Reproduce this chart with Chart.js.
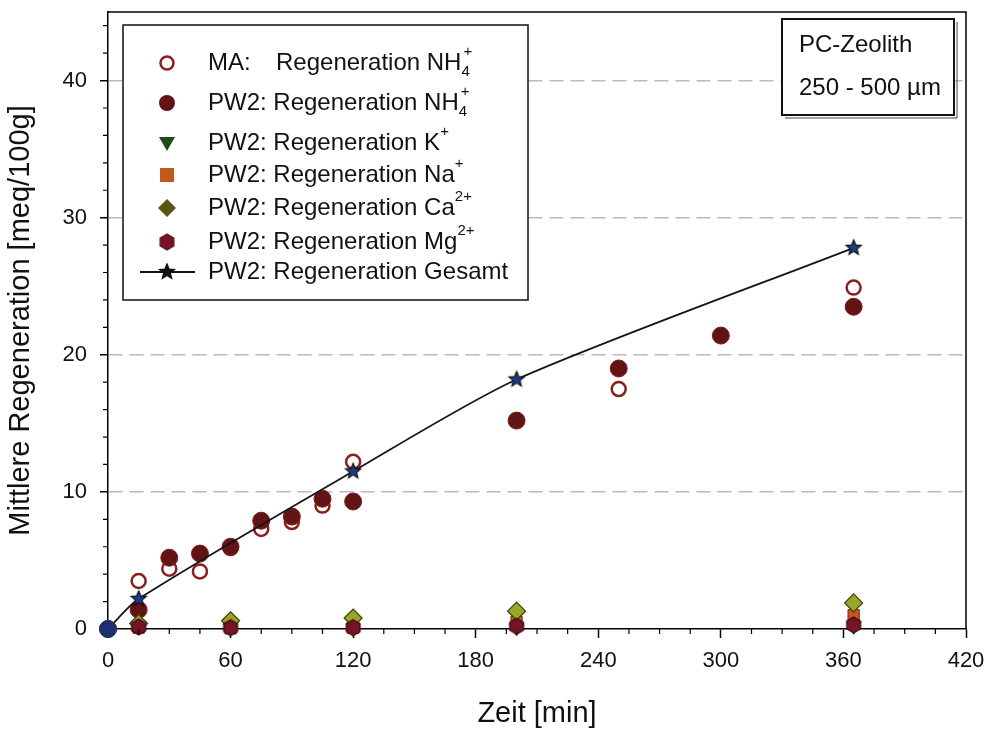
<!DOCTYPE html>
<html><head><meta charset="utf-8">
<script src="https://cdn.jsdelivr.net/npm/chart.js@4"></script>
<style>html,body{margin:0;padding:0;background:#fff}</style>
</head><body>
<canvas id="c" width="989" height="731"></canvas>
<script>
// ---- data ----
const timesMA = [0, 15, 30, 45, 60, 75, 90, 105, 120, 250, 365];
const valuesMA = [0, 3.5, 4.4, 4.2, 5.9, 7.3, 7.8, 9.0, 12.2, 17.5, 24.9];
const timesPW2 = [0, 15, 30, 45, 60, 75, 90, 105, 120, 200, 250, 300, 365];
const valuesPW2NH4 = [0, 1.4, 5.2, 5.5, 6.0, 7.9, 8.2, 9.5, 9.3, 15.2, 19.0, 21.4, 23.5];
const timesIons = [15, 60, 120, 200, 365];
const valuesK = [0.3, 0.1, 0.1, 0.1, 0.2];
const valuesNa = [0.1, 0.05, 0.1, 0.5, 1.0];
const valuesCa = [0.4, 0.6, 0.8, 1.3, 1.9];
const valuesMg = [0.15, 0.1, 0.1, 0.2, 0.3];
const timesTotal = [0, 15, 120, 200, 365];
const valuesTotal = [0, 2.2, 11.5, 18.2, 27.8];
const xTickLabels = [0, 60, 120, 180, 240, 300, 360, 420];
const yTickLabels = [0, 10, 20, 30, 40];
const legendLabels = [
  [{t:'MA:'}, {t:'Regeneration NH', at:1}, {t:'4', sub:1}, {t:'+', sup:1, stack:1}],
  [{t:'PW2: Regeneration NH'}, {t:'4', sub:1}, {t:'+', sup:1, stack:1}],
  [{t:'PW2: Regeneration K'}, {t:'+', sup:1}],
  [{t:'PW2: Regeneration Na'}, {t:'+', sup:1}],
  [{t:'PW2: Regeneration Ca'}, {t:'2+', sup:1}],
  [{t:'PW2: Regeneration Mg'}, {t:'2+', sup:1}],
  [{t:'PW2: Regeneration Gesamt'}]
];
const infoLines = ['PC-Zeolith', '250 - 500 µm'];

const FONT = "'Liberation Sans', Arial, sans-serif";
const C = {
  ma: '#8a1f1f', nh4: '#621414', k: '#1f4a16', na: '#c2581e',
  ca: '#9aa628', caB: '#3e3e10', mg: '#741424', star: '#1d3a86'
};

function pts(xs, ys) { return xs.map((x, i) => ({x, y: ys[i]})); }

function makeStar(R, fill, stroke) {
  const s = Math.ceil(R * 2 + 4), c = document.createElement('canvas');
  c.width = s; c.height = s;
  const g = c.getContext('2d');
  g.beginPath();
  for (let i = 0; i < 10; i++) {
    const r = i % 2 === 0 ? R : R * 0.45, a = -Math.PI / 2 + i * Math.PI / 5;
    const px = s / 2 + r * Math.cos(a), py = s / 2 + r * Math.sin(a);
    i ? g.lineTo(px, py) : g.moveTo(px, py);
  }
  g.closePath(); g.fillStyle = fill; g.fill();
  g.lineWidth = 1.2; g.strokeStyle = stroke; g.stroke();
  return c;
}
function makeHex(R, fill, stroke) {
  const s = Math.ceil(R * 2 + 4), c = document.createElement('canvas');
  c.width = s; c.height = s;
  const g = c.getContext('2d');
  g.beginPath();
  for (let i = 0; i < 6; i++) {
    const a = -Math.PI / 2 + i * Math.PI / 3;
    const px = s / 2 + R * Math.cos(a), py = s / 2 + R * Math.sin(a);
    i ? g.lineTo(px, py) : g.moveTo(px, py);
  }
  g.closePath(); g.fillStyle = fill; g.fill();
  g.lineWidth = 1.2; g.strokeStyle = stroke; g.stroke();
  return c;
}
const starImg = makeStar(8, C.star, '#111');
const hexImg = makeHex(8, C.mg, '#3a0a10');

// ---- plugins ----
const framePlugin = {
  id: 'frame',
  afterDraw(chart) {
    const {ctx, chartArea: a, scales: {x, y}} = chart;
    ctx.save();
    ctx.strokeStyle = '#000'; ctx.lineWidth = 1.5;
    ctx.beginPath();
    ctx.moveTo(a.left, a.top); ctx.lineTo(a.right, a.top); ctx.lineTo(a.right, a.bottom);
    ctx.stroke();
    // minor ticks
    ctx.lineWidth = 1.2;
    ctx.beginPath();
    for (let v = 15; v < 420; v += 15) {
      if (v % 60 === 0) continue;
      const px = x.getPixelForValue(v);
      ctx.moveTo(px, a.bottom); ctx.lineTo(px, a.bottom + 5);
    }
    for (let v = 2; v < 45; v += 2) {
      if (v % 10 === 0) continue;
      const py = y.getPixelForValue(v);
      ctx.moveTo(a.left, py); ctx.lineTo(a.left - 5, py);
    }
    ctx.stroke();

    // legend box
    const L = {x: 123, y: 25, w: 405, h: 275};
    ctx.fillStyle = '#fff';
    ctx.fillRect(L.x, L.y, L.w, L.h);
    ctx.lineWidth = 1.5; ctx.strokeStyle = '#111';
    ctx.strokeRect(L.x, L.y, L.w, L.h);
    const rowsY = [63, 103, 143, 175, 208, 242, 272];
    const mx = 167, tx = 208;
    rowsY.forEach((ry, i) => {
      drawMarker(ctx, i, mx, ry);
      drawRich(ctx, legendLabels[i], tx, ry);
    });

    // info box
    const B = {x: 782, y: 19, w: 172, h: 96};
    ctx.fillStyle = '#fff';
    ctx.fillRect(B.x, B.y, B.w, B.h);
    ctx.lineWidth = 1; ctx.strokeStyle = '#444';
    ctx.beginPath();
    ctx.moveTo(B.x + B.w + 3, B.y + 3); ctx.lineTo(B.x + B.w + 3, B.y + B.h + 3); ctx.lineTo(B.x + 3, B.y + B.h + 3);
    ctx.stroke();
    ctx.lineWidth = 2; ctx.strokeStyle = '#111';
    ctx.strokeRect(B.x, B.y, B.w, B.h);
    ctx.fillStyle = '#111';
    ctx.font = '24px ' + FONT;
    ctx.textBaseline = 'middle'; ctx.textAlign = 'left';
    ctx.fillText(infoLines[0], 799, 45);
    ctx.fillText(infoLines[1], 799, 88);
    ctx.restore();
  }
};

function drawMarker(ctx, i, x, y) {
  ctx.save();
  ctx.beginPath();
  if (i === 0) {
    ctx.arc(x, y, 6.5, 0, Math.PI * 2);
    ctx.fillStyle = '#fff'; ctx.fill();
    ctx.lineWidth = 2.5; ctx.strokeStyle = C.ma; ctx.stroke();
  } else if (i === 1) {
    ctx.arc(x, y, 8, 0, Math.PI * 2); ctx.fillStyle = C.nh4; ctx.fill();
  } else if (i === 2) {
    ctx.moveTo(x - 8, y - 6); ctx.lineTo(x + 8, y - 6); ctx.lineTo(x, y + 8); ctx.closePath();
    ctx.fillStyle = C.k; ctx.fill();
  } else if (i === 3) {
    ctx.rect(x - 7, y - 7, 14, 14); ctx.fillStyle = C.na; ctx.fill();
  } else if (i === 4) {
    ctx.moveTo(x, y - 9); ctx.lineTo(x + 9, y); ctx.lineTo(x, y + 9); ctx.lineTo(x - 9, y); ctx.closePath();
    ctx.fillStyle = '#5c5418'; ctx.fill();
  } else if (i === 5) {
    ctx.drawImage(makeHex(8, C.mg, C.mg), x - 10, y - 10);
  } else {
    ctx.moveTo(x - 27, y); ctx.lineTo(x + 28, y);
    ctx.lineWidth = 2; ctx.strokeStyle = '#111'; ctx.stroke();
    ctx.drawImage(makeStar(8, '#111', '#111'), x - 10, y - 10);
  }
  ctx.restore();
}

function drawRich(ctx, parts, x, y) {
  ctx.save();
  ctx.fillStyle = '#111'; ctx.textBaseline = 'middle'; ctx.textAlign = 'left';
  let cx = x, lastX = x;
  parts.forEach(p => {
    if (p.at) cx = 276;
    const size = (p.sub || p.sup) ? 15 : 24;
    ctx.font = size + 'px ' + FONT;
    const dy = p.sub ? 9 : (p.sup ? -11 : 0);
    const sx = p.stack ? lastX + 2 : cx;
    ctx.fillText(p.t, sx, y + dy);
    if (!p.stack) { lastX = cx; cx = sx + ctx.measureText(p.t).width; }
  });
  ctx.restore();
}

new Chart(document.getElementById('c'), {
  type: 'scatter',
  data: {
    datasets: [
      { label: 'PW2: Regeneration Gesamt', data: pts(timesTotal, valuesTotal), showLine: true,
        borderColor: '#151515', borderWidth: 1.8, tension: 0.25,
        pointStyle: ['circle', starImg, starImg, starImg, starImg],
        pointRadius: 8, pointBackgroundColor: '#1c2f6e', pointBorderColor: '#1c2f6e',
        order: 0, clip: false },
      { label: 'Mg', data: pts(timesIons, valuesMg), pointStyle: hexImg, pointRadius: 8, order: 1, clip: false },
      { label: 'Ca', data: pts(timesIons, valuesCa), pointStyle: 'rectRot', pointRadius: 9,
        pointBackgroundColor: C.ca, pointBorderColor: C.caB, pointBorderWidth: 1.2, order: 2, clip: false },
      { label: 'Na', data: pts(timesIons, valuesNa), pointStyle: 'rect', pointRadius: 8,
        pointBackgroundColor: C.na, pointBorderColor: '#7a2a10', pointBorderWidth: 1, order: 3, clip: false },
      { label: 'K', data: pts(timesIons, valuesK), pointStyle: 'triangle', rotation: 180, pointRadius: 8,
        pointBackgroundColor: C.k, pointBorderColor: C.k, order: 4, clip: false },
      { label: 'PW2 NH4', data: pts(timesPW2, valuesPW2NH4), pointStyle: 'circle', pointRadius: 8.5,
        pointBackgroundColor: C.nh4, pointBorderColor: '#7e1c1c', pointBorderWidth: 1, order: 5, clip: false },
      { label: 'MA NH4', data: pts(timesMA, valuesMA), pointStyle: 'circle', pointRadius: 7,
        pointBackgroundColor: '#fff', pointBorderColor: C.ma, pointBorderWidth: 2.5, order: 6, clip: false }
    ]
  },
  options: {
    responsive: false, animation: false,
    layout: { padding: { top: 12, right: 23, left: 0, bottom: 0 } },
    plugins: { legend: { display: false }, tooltip: { enabled: false } },
    scales: {
      x: {
        type: 'linear', min: 0, max: 420,
        afterBuildTicks: s => { s.ticks = xTickLabels.map(v => ({value: v})); },
        ticks: { color: '#111', font: { family: FONT, size: 22 }, padding: 10, maxRotation: 0, autoSkip: false },
        grid: { drawOnChartArea: false, tickLength: 9, tickColor: '#000', tickWidth: 1.5 },
        border: { color: '#000', width: 1.5 },
        title: { display: true, text: 'Zeit [min]', color: '#111', font: { family: FONT, size: 29 }, padding: { top: 0, bottom: 0 } },
        afterFit: s => { s.height = 102; s.paddingLeft = 0; s.paddingRight = 0; }
      },
      y: {
        type: 'linear', min: 0, max: 45,
        afterBuildTicks: s => { s.ticks = yTickLabels.map(v => ({value: v})); },
        ticks: { color: '#111', font: { family: FONT, size: 22 }, padding: 13 },
        grid: { color: c => (c.tick && c.tick.value > 0) ? '#b9b9b9' : 'rgba(0,0,0,0)', lineWidth: 1.5,
                tickLength: 8, tickColor: '#000', tickWidth: 1.5 },
        border: { color: '#000', width: 1.5, dash: [14, 7] },
        title: { display: true, text: 'Mittlere Regeneration [meq/100g]', color: '#111', font: { family: FONT, size: 29 }, padding: { top: 4, bottom: 0 } },
        afterFit: s => { s.width = 108; s.paddingTop = 0; s.paddingBottom = 0; }
      }
    }
  },
  plugins: [framePlugin]
});
</script>
</body></html>
